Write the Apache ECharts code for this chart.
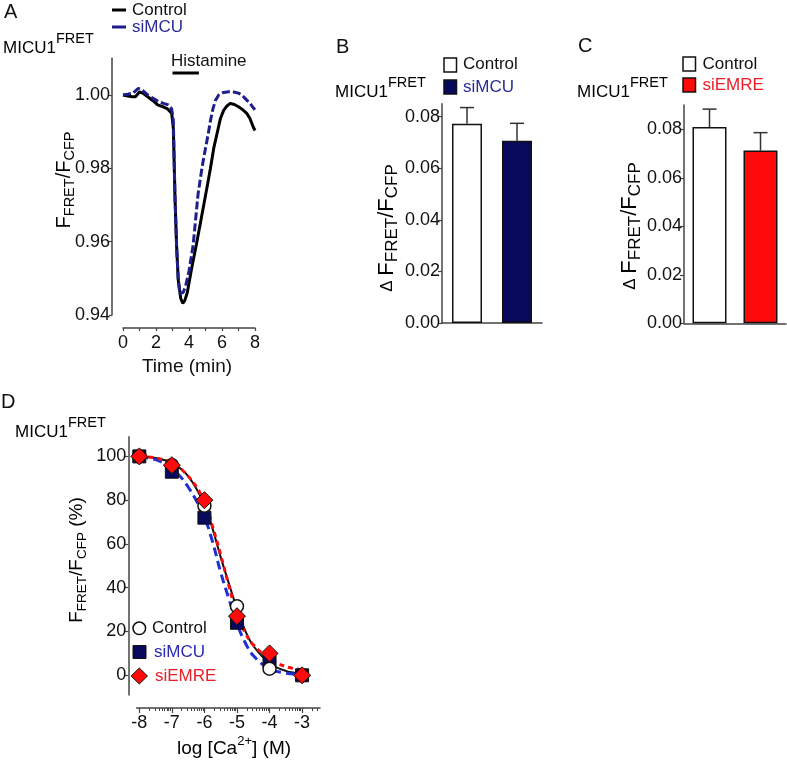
<!DOCTYPE html>
<html><head><meta charset="utf-8">
<script src="https://cdn.jsdelivr.net/npm/echarts@6/dist/echarts.min.js"></script>
<style>html,body{margin:0;padding:0;background:#fff}#c{width:787px;height:764px}</style>
</head><body><div id="c"></div>
<script>
// ---------- Panel A : time traces ----------
const timeControl = [0, 0.3, 0.55, 0.75, 1.0, 1.2, 1.5, 1.8, 2.1, 2.4, 2.7, 2.95, 3.05, 3.15, 3.25, 3.35, 3.5, 3.62, 3.75, 3.9, 4.15, 4.45, 4.75, 5.05, 5.3, 5.5, 5.7, 5.9, 6.1, 6.3, 6.5, 6.75, 7.0, 7.25, 7.5, 7.7, 7.9, 8.0];
const traceControl = [1.000, 0.9997, 0.9995, 0.9995, 1.0008, 1.0005, 0.9995, 0.9985, 0.9973, 0.9968, 0.9962, 0.995, 0.991, 0.9723, 0.9586, 0.9495, 0.9445, 0.9432, 0.9440, 0.9462, 0.9525, 0.9593, 0.9665, 0.9738, 0.980, 0.9855, 0.9895, 0.9935, 0.9958, 0.997, 0.9977, 0.9974, 0.9968, 0.996, 0.995, 0.9935, 0.9912, 0.9903];
const timeSiMCU = [0, 0.3, 0.6, 0.93, 1.2, 1.5, 1.85, 2.14, 2.45, 2.75, 2.95, 3.05, 3.15, 3.25, 3.35, 3.45, 3.55, 3.65, 3.8, 4.0, 4.25, 4.55, 4.8, 5.0, 5.15, 5.3, 5.45, 5.6, 5.8, 6.1, 6.4, 6.7, 7.0, 7.25, 7.5, 7.7, 7.9, 8.0];
const traceSiMCU = [1.000, 1.0002, 1.0005, 1.0018, 1.0012, 1.0000, 0.9990, 0.9982, 0.9977, 0.9973, 0.9962, 0.993, 0.9723, 0.9586, 0.9495, 0.9458, 0.9455, 0.9462, 0.9480, 0.9520, 0.9590, 0.9730, 0.9805, 0.9855, 0.9890, 0.9930, 0.9962, 0.9985, 1.0000, 1.0007, 1.0009, 1.0008, 1.0005, 0.9998, 0.9986, 0.9977, 0.9965, 0.996];
const histamineTimes = [3.0, 4.6];
const histamineLevel = 1.006;
const aXTicks = [0, 1, 2, 3, 4, 5, 6, 7, 8];
const aXLabels = [0, 2, 4, 6, 8];
const aYTicks = [0.94, 0.96, 0.98, 1.00];

// ---------- Panel B / C : bars ----------
const catsB = ['Control', 'siMCU'];
const meanB = [0.0772, 0.0706];
const semB = [0.0063, 0.0068];
const catsC = ['Control', 'siEMRE'];
const meanC = [0.0809, 0.0712];
const semC = [0.0074, 0.0074];
const barYTicks = [0, 0.02, 0.04, 0.06, 0.08];

// ---------- Panel D : dose response ----------
const logCa = [-8, -7, -6, -5, -4, -3];
const ptControl = [100, 96, 77.5, 31.5, 3, 0];
const ptSiMCU = [100, 93, 72, 24, 6.5, 0];
const ptSiEMRE = [100, 96, 80, 27, 10, 0];
const fitX = [-8, -7.5, -7, -6.5, -6, -5.75, -5.5, -5.25, -5, -4.75, -4.5, -4, -3.5, -3];
const fitControl = [100, 99.3, 97, 91, 78, 67, 54, 42, 30.5, 20.5, 13.5, 5.5, 2, 0.8];
const fitSiMCU = [99.8, 98.5, 94.5, 86, 72, 61, 47, 35, 23.5, 15, 9, 3, 1, 0.5];
const fitSiEMRE = [100, 99.3, 97, 91, 79.5, 68, 55, 41, 28, 19.5, 14, 7.5, 4, 2.5];
const dXTicks = [-8, -7, -6, -5, -4, -3];
const dYTicks = [0, 20, 40, 60, 80, 100];

const FONT = 'Liberation Sans, Arial, sans-serif';
const AXIS = '#444';
const NAVY = '#08085c';
const TRACEBLUE = '#1d1d8c';
const FITBLUE = '#1f2fd6';
const RED = '#ff0a0a';

const zip = (a, b) => a.map((v, i) => [v, b[i]]);

// log-scale minor tick positions for panel D
const dMinor = [];
for (let d = -8; d <= -3; d++) {
  for (let k = 2; k <= 9; k++) {
    const v = d + Math.log10(k);
    if (v <= -2.46) dMinor.push(v);
  }
}

const chart = echarts.init(document.getElementById('c'), null, {renderer: 'canvas'});

const lbl = {color: '#111', fontSize: 18, fontFamily: FONT};
const axLine = {show: true, onZero: false, lineStyle: {color: AXIS, width: 1.5}};

function errItem(params, api) {
  const p0 = api.coord([api.value(0), api.value(1)]);
  const p1 = api.coord([api.value(0), api.value(1) + api.value(2)]);
  return {type: 'group', children: [
    {type: 'line', shape: {x1: p0[0], y1: p0[1], x2: p1[0], y2: p1[1]}, style: {stroke: '#333', lineWidth: 1.5}},
    {type: 'line', shape: {x1: p1[0] - 7, y1: p1[1], x2: p1[0] + 7, y2: p1[1]}, style: {stroke: '#333', lineWidth: 1.5}}
  ]};
}

const supRich = {
  m: {fontSize: 17, fontFamily: FONT, color: '#111', lineHeight: 34},
  p: {fontSize: 14.5, fontFamily: FONT, color: '#111', verticalAlign: 'top', lineHeight: 14}
};
const subRich = (size, sub) => ({
  m: {fontSize: size, fontFamily: FONT, color: '#111', lineHeight: size + 6},
  s: {fontSize: sub, fontFamily: FONT, color: '#111', verticalAlign: 'bottom', lineHeight: sub},
  d: {fontSize: sub, fontFamily: FONT, color: '#555', lineHeight: size + 6}
});

function txt(x, y, text, opts) {
  return Object.assign({type: 'text', x: x, y: y, z: 10, style: Object.assign({
    text: text, font: '17px ' + FONT, fill: '#111', align: 'left', verticalAlign: 'middle',
    textAlign: 'left', textVerticalAlign: 'middle'}, opts && opts.style || {})}, opts && opts.el || {});
}
function micu(x, yMid) {
  return {type: 'text', x: x, y: yMid - 17, z: 10, style: {text: '{m|MICU1}{p|FRET}', rich: supRich, align: 'left', verticalAlign: 'top', textAlign: 'left', textVerticalAlign: 'top'}};
}
function rotTitle(x, y, text, size, sub) {
  return {type: 'text', x: x, y: y, rotation: Math.PI / 2, z: 10, style: {text: text, rich: subRich(size, sub), align: 'center', verticalAlign: 'middle', textAlign: 'center', textVerticalAlign: 'middle'}};
}

const graphics = [
  // Panel A
  txt(4, 12, 'A', {style: {font: '20px ' + FONT}}),
  {type: 'line', shape: {x1: 112, y1: 10, x2: 126, y2: 10}, style: {stroke: '#000', lineWidth: 3}},
  txt(132, 10, 'Control'),
  {type: 'line', shape: {x1: 112, y1: 27, x2: 126, y2: 27}, style: {stroke: TRACEBLUE, lineWidth: 3}},
  txt(132, 27, 'siMCU', {style: {fill: '#2b2b9b'}}),
  micu(3, 48),
  txt(171, 61, 'Histamine'),
  rotTitle(64, 180, '{m|F}{s|FRET}{m|/F}{s|CFP}', 20, 14.5),
  txt(187, 367, 'Time (min)', {style: {align: 'center', textAlign: 'center', font: '19px ' + FONT}}),
  // Panel B
  txt(336, 47, 'B', {style: {font: '20px ' + FONT}}),
  {type: 'rect', shape: {x: 444, y: 58, width: 12.5, height: 14}, style: {fill: '#fff', stroke: '#111', lineWidth: 1.5}},
  txt(463, 64.5, 'Control'),
  {type: 'rect', shape: {x: 444, y: 80, width: 12.5, height: 14}, style: {fill: NAVY, stroke: '#111', lineWidth: 1.5}},
  txt(463, 87, 'siMCU', {style: {fill: '#2b2b9b'}}),
  micu(335, 92),
  rotTitle(387, 228, '{d|Δ }{m|F}{s|FRET}{m|/F}{s|CFP}', 22, 17),
  // Panel C
  txt(578, 46, 'C', {style: {font: '20px ' + FONT}}),
  {type: 'rect', shape: {x: 683, y: 57, width: 12.5, height: 14}, style: {fill: '#fff', stroke: '#111', lineWidth: 1.5}},
  txt(702.5, 64, 'Control'),
  {type: 'rect', shape: {x: 683, y: 78, width: 12.5, height: 14}, style: {fill: RED, stroke: '#111', lineWidth: 1.5}},
  txt(702.5, 85, 'siEMRE', {style: {fill: '#e8202a'}}),
  micu(577, 92),
  rotTitle(630, 226, '{d|Δ }{m|F}{s|FRET}{m|/F}{s|CFP}', 22, 17),
  // Panel D
  txt(1, 402, 'D', {style: {font: '20px ' + FONT}}),
  micu(15, 432),
  rotTitle(77, 560, '{m|F}{s|FRET}{m|/F}{s|CFP}{m| (%)}', 19, 13.5),
  {type: 'circle', shape: {cx: 139.3, cy: 628.3, r: 6.3}, style: {fill: '#fff', stroke: '#111', lineWidth: 1.5}, z: 10},
  txt(152, 628, 'Control'),
  {type: 'rect', shape: {x: 133, y: 645.5, width: 13, height: 13}, style: {fill: NAVY, stroke: '#111', lineWidth: 1}, z: 10},
  txt(154, 652, 'siMCU', {style: {fill: '#2a2ab5'}}),
  {type: 'polygon', shape: {points: [[139.3, 668], [147.5, 676], [139.3, 684], [131.1, 676]]}, style: {fill: RED, stroke: '#111', lineWidth: 1}, z: 10},
  txt(155, 676, 'siEMRE', {style: {fill: '#e8202a'}}),
  {type: 'text', x: 234, y: 735, z: 10, style: {text: '{m|log [Ca}{p|2+}{m|] (M)}', rich: {
    m: {fontSize: 19, fontFamily: FONT, color: '#111', lineHeight: 27},
    p: {fontSize: 13, fontFamily: FONT, color: '#111', verticalAlign: 'top', lineHeight: 13}
  }, align: 'center', verticalAlign: 'top', textAlign: 'center', textVerticalAlign: 'top'}}
];

const option = {
  animation: false,
  backgroundColor: '#fff',
  textStyle: {fontFamily: FONT},
  grid: [
    {left: 123, top: 58.3, width: 132, height: 256.7},
    {left: 442, top: 103.7, width: 100, height: 219.3},
    {left: 684, top: 105, width: 102, height: 218.3},
    {left: 136.7, top: 436.7, width: 183.3, height: 258.3}
  ],
  xAxis: [
    {type: 'value', gridIndex: 0, position: 'bottom', min: 0, max: 8, interval: 1, offset: 13, axisLine: axLine,
      axisTick: {show: true, length: 3, lineStyle: {color: AXIS, width: 1.2}, customValues: aXTicks},
      axisLabel: Object.assign({margin: 6, customValues: aXLabels}, lbl), splitLine: {show: false}},
    {type: 'category', gridIndex: 1, data: catsB, axisLine: axLine, axisTick: {show: false}, axisLabel: {show: false}},
    {type: 'category', gridIndex: 2, data: catsC, axisLine: axLine, axisTick: {show: false}, axisLabel: {show: false}},
    {type: 'value', gridIndex: 3, position: 'bottom', min: -8.08, max: -2.45, offset: 13, axisLine: axLine,
      axisTick: {show: true, length: 5, lineStyle: {color: AXIS, width: 1.2}, customValues: dXTicks},
      axisLabel: Object.assign({margin: 6, customValues: dXTicks, formatter: (v) => String(v)}, lbl), splitLine: {show: false}},
    {type: 'value', gridIndex: 3, position: 'bottom', min: -8.08, max: -2.45, offset: 13, axisLine: {show: false, onZero: false},
      axisTick: {show: true, length: 3, lineStyle: {color: AXIS, width: 1}, customValues: dMinor},
      axisLabel: {show: false}, splitLine: {show: false}}
  ],
  yAxis: [
    {type: 'value', gridIndex: 0, min: 0.94, max: 1.01, offset: 11, axisLine: axLine,
      axisTick: {show: true, length: 3, lineStyle: {color: AXIS, width: 1.2}, customValues: aYTicks},
      axisLabel: Object.assign({margin: 2, customValues: aYTicks, formatter: (v) => v.toFixed(2)}, lbl), splitLine: {show: false}},
    {type: 'value', gridIndex: 1, min: 0, max: 0.085, axisLine: axLine,
      axisTick: {show: true, length: 4, lineStyle: {color: AXIS, width: 1.2}, customValues: barYTicks},
      axisLabel: Object.assign({margin: 2, customValues: barYTicks, formatter: (v) => v.toFixed(2)}, lbl), splitLine: {show: false}},
    {type: 'value', gridIndex: 2, min: 0, max: 0.09, axisLine: axLine,
      axisTick: {show: true, length: 4, lineStyle: {color: AXIS, width: 1.2}, customValues: barYTicks},
      axisLabel: Object.assign({margin: 2, customValues: barYTicks, formatter: (v) => v.toFixed(2)}, lbl), splitLine: {show: false}},
    {type: 'value', gridIndex: 3, min: -9, max: 109, offset: 8.4, axisLine: axLine,
      axisTick: {show: true, length: 4, lineStyle: {color: AXIS, width: 1.2}, customValues: dYTicks},
      axisLabel: Object.assign({margin: 2, customValues: dYTicks}, lbl), splitLine: {show: false}}
  ],
  series: [
    // Panel A
    {type: 'line', xAxisIndex: 0, yAxisIndex: 0, data: zip(timeControl, traceControl), symbol: 'none',
      lineStyle: {color: '#000', width: 3}, z: 2},
    {type: 'line', xAxisIndex: 0, yAxisIndex: 0, data: zip(timeSiMCU, traceSiMCU), symbol: 'none',
      lineStyle: {color: TRACEBLUE, width: 3, type: [8, 3]}, z: 3},
    {type: 'line', xAxisIndex: 0, yAxisIndex: 0, data: histamineTimes.map(t => [t, histamineLevel]), symbol: 'none',
      lineStyle: {color: '#000', width: 3}, z: 3},
    // Panel B
    {type: 'bar', xAxisIndex: 1, yAxisIndex: 1, barWidth: 30,
      data: meanB.map((v, i) => ({value: v, itemStyle: {color: i === 0 ? '#fff' : NAVY}})),
      itemStyle: {borderColor: '#111', borderWidth: 1.5}, z: 2},
    {type: 'custom', xAxisIndex: 1, yAxisIndex: 1, renderItem: errItem,
      data: meanB.map((v, i) => [i, v, semB[i]]), z: 3},
    // Panel C
    {type: 'bar', xAxisIndex: 2, yAxisIndex: 2, barWidth: 34,
      data: meanC.map((v, i) => ({value: v, itemStyle: {color: i === 0 ? '#fff' : RED}})),
      itemStyle: {borderColor: '#111', borderWidth: 1.5}, z: 2},
    {type: 'custom', xAxisIndex: 2, yAxisIndex: 2, renderItem: errItem,
      data: meanC.map((v, i) => [i, v, semC[i]]), z: 3},
    // Panel D fits
    {type: 'line', xAxisIndex: 3, yAxisIndex: 3, data: zip(fitX, fitControl), symbol: 'none', smooth: 0.4,
      lineStyle: {color: '#111', width: 2}, z: 2},
    {type: 'line', xAxisIndex: 3, yAxisIndex: 3, data: zip(fitX, fitSiMCU), symbol: 'none', smooth: 0.4,
      lineStyle: {color: FITBLUE, width: 3, type: [9, 5]}, z: 2},
    {type: 'line', xAxisIndex: 3, yAxisIndex: 3, data: zip(fitX, fitSiEMRE), symbol: 'none', smooth: 0.4,
      lineStyle: {color: RED, width: 3, type: [5, 4]}, z: 2},
    // Panel D points
    {type: 'scatter', xAxisIndex: 3, yAxisIndex: 3, data: zip(logCa, ptSiMCU), symbol: 'rect', symbolSize: 13,
      itemStyle: {color: NAVY, borderColor: '#111', borderWidth: 1, opacity: 1}, z: 4},
    {type: 'scatter', xAxisIndex: 3, yAxisIndex: 3, data: zip(logCa, ptControl), symbol: 'circle', symbolSize: 13,
      itemStyle: {color: '#fff', borderColor: '#111', borderWidth: 1.5, opacity: 1}, z: 5},
    {type: 'scatter', xAxisIndex: 3, yAxisIndex: 3, data: zip(logCa, ptSiEMRE), symbol: 'diamond', symbolSize: [17, 17],
      itemStyle: {color: RED, borderColor: '#111', borderWidth: 1, opacity: 1}, z: 6}
  ],
  graphic: graphics
};
chart.setOption(option);
</script>
</body></html>
